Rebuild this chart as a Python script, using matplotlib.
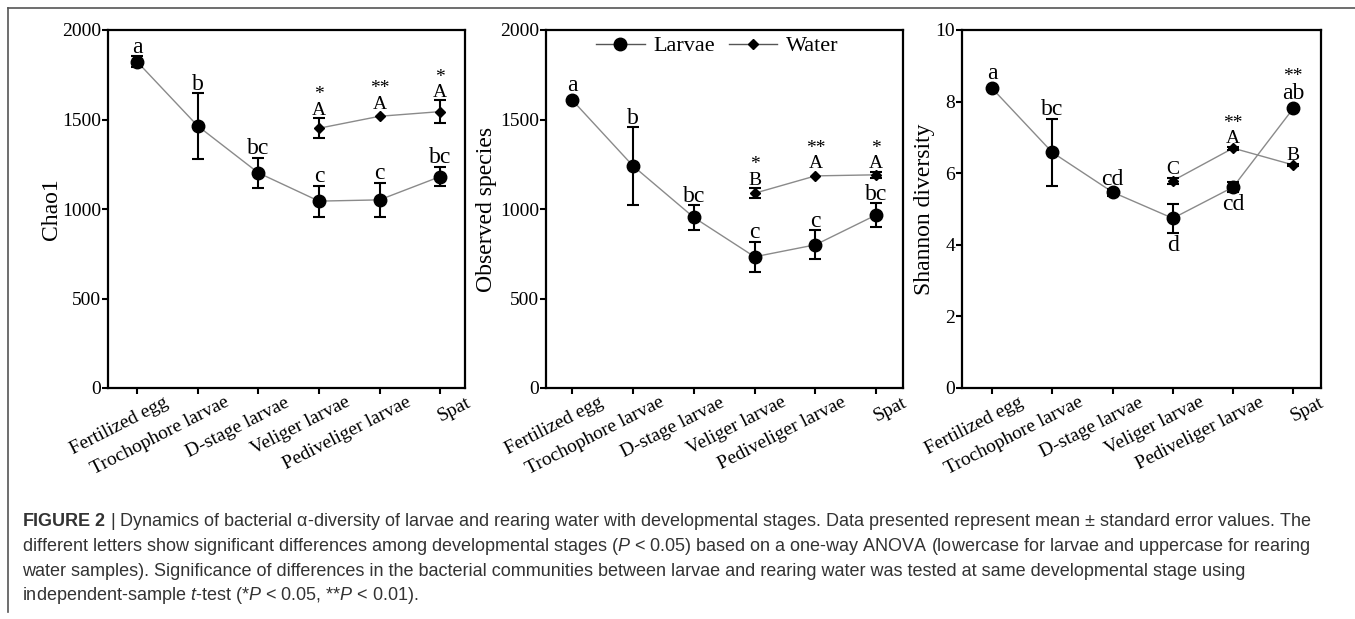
import numpy as np
import matplotlib
matplotlib.use('Agg')
from matplotlib import pyplot as plt
from matplotlib import font_manager, transforms
from matplotlib.lines import Line2D

nan = np.nan

# stages shared by all three panels
stages = ['Fertilized egg', 'Trochophore larvae', 'D-stage larvae',
          'Veliger larvae', 'Pediveliger larvae', 'Spat']

# Chao1
chao1_larvae = [1823, 1464, 1202, 1044, 1051, 1181]
chao1_larvae_se = [30, 182, 84, 87, 96, 54]
chao1_water = [nan, nan, nan, 1451, 1518, 1544]
chao1_water_se = [nan, nan, nan, 56, nan, 63]
chao1_larvae_letters = ['a', 'b', 'bc', 'c', 'c', 'bc']
chao1_water_letters = ['', '', '', 'A', 'A', 'A']
chao1_stars = ['', '', '', '*', '**', '*']

# Observed species
obs_larvae = [1609, 1241, 953, 733, 800, 967]
obs_larvae_se = [nan, 217, 68, 85, 82, 66]
obs_water = [nan, nan, nan, 1088, 1185, 1191]
obs_water_se = [nan, nan, nan, 28, nan, 18]
obs_larvae_letters = ['a', 'b', 'bc', 'c', 'c', 'bc']
obs_water_letters = ['', '', '', 'B', 'A', 'A']
obs_stars = ['', '', '', '*', '**', '*']

# Shannon diversity
shan_larvae = [8.37, 6.58, 5.47, 4.74, 5.61, 7.81]
shan_larvae_se = [nan, 0.94, 0.10, 0.41, 0.14, nan]
shan_water = [nan, nan, nan, 5.79, 6.70, 6.23]
shan_water_se = [nan, nan, nan, 0.08, 0.04, 0.04]
shan_larvae_letters = ['a', 'bc', 'cd', 'd', 'cd', 'ab']
shan_water_letters = ['', '', '', 'C', 'A', 'B']
shan_stars = ['', '', '', '', '**', '**']

names = {f.name for f in font_manager.fontManager.ttflist}
cap_font = 'Liberation Sans Narrow' if 'Liberation Sans Narrow' in names else 'Liberation Sans'

plt.rcParams['font.family'] = 'Liberation Serif'
plt.rcParams['mathtext.fontset'] = 'custom'
plt.rcParams['mathtext.rm'] = cap_font
plt.rcParams['mathtext.it'] = cap_font + ':italic'
plt.rcParams['mathtext.bf'] = cap_font + ':bold'

W, H = 1355, 619
fig = plt.figure(figsize=(W / 100, H / 100), dpi=100)

line_col = '#8a8a8a'


def panel(rect, xlim, larvae, larvae_se, water, water_se, l_letters, w_letters,
          stars, ylim, yticks, ylabel, ylabel_x, below=None):
    ax = fig.add_axes(rect)
    x = np.arange(len(stages))
    larvae = np.array(larvae, float)
    water = np.array(water, float)
    lse = np.array(larvae_se, float)
    wse = np.array(water_se, float)

    ax.plot(x, larvae, color=line_col, lw=1, zorder=2)
    ax.plot(x, water, color=line_col, lw=1, zorder=2)
    ax.plot(x, larvae, 'o', ms=9, color='black', zorder=3)
    ax.plot(x, water, 'D', ms=5.5, color='black', zorder=3)
    ax.errorbar(x, larvae, yerr=lse, fmt='none', ecolor='black',
                elinewidth=1.5, capsize=4.5, capthick=1.5, zorder=4)
    ax.errorbar(x, water, yerr=wse, fmt='none', ecolor='black',
                elinewidth=1.5, capsize=4.5, capthick=1.5, zorder=4)

    below = below or [False] * len(stages)
    for i in range(len(stages)):
        tops = {}
        # larvae letter
        se = lse[i]
        if below[i]:
            yb = larvae[i] - (se if np.isfinite(se) else 0)
            off = -1.5 if np.isfinite(se) else -6.5
            ax.annotate(l_letters[i], (x[i], yb), xytext=(0, off),
                        textcoords='offset points', ha='center', va='top',
                        fontsize=17)
        else:
            yt = larvae[i] + (se if np.isfinite(se) else 0)
            off = 2.5 if np.isfinite(se) else 6.5
            ax.annotate(l_letters[i], (x[i], yt), xytext=(0, off),
                        textcoords='offset points', ha='center',
                        va='baseline', fontsize=17)
            tops['l'] = (yt, off, 13)
        if w_letters[i]:
            se = wse[i]
            yt = water[i] + (se if np.isfinite(se) else 0)
            off = 2.5 if np.isfinite(se) else 5.5
            ax.annotate(w_letters[i], (x[i], yt), xytext=(0, off),
                        textcoords='offset points', ha='center',
                        va='baseline', fontsize=14)
            tops['w'] = (yt, off, 11)
        if stars[i]:
            key = 'w' if (np.isfinite(water[i]) and water[i] > larvae[i]) else 'l'
            yt, off, gap = tops[key]
            ax.annotate(stars[i], (x[i], yt), xytext=(0, off + gap),
                        textcoords='offset points', ha='center',
                        va='baseline', fontsize=14)

    ax.set_xlim(xlim)
    ax.set_ylim(ylim)
    ax.set_yticks(yticks)
    ax.set_xticks(x)
    ax.tick_params(axis='x', labelbottom=False, length=6 * 0.72, width=1.5)
    # rotated stage names, shifted right of their ticks as in the original
    trans = (transforms.blended_transform_factory(ax.transData, ax.transAxes) +
             transforms.ScaledTranslation(0.26, -0.06, fig.dpi_scale_trans))
    for xi, lab in zip(x, stages):
        ax.text(xi, 0, lab, transform=trans, rotation=27, rotation_mode='anchor',
                ha='right', va='top', fontsize=14, clip_on=False)
    ax.tick_params(axis='y', labelsize=14, length=6 * 0.72, width=1.5, pad=0.5)
    for s in ax.spines.values():
        s.set_linewidth(1.6)
    ax.set_ylabel(ylabel, fontsize=17)
    ax.yaxis.set_label_coords(ylabel_x, 0.5)
    return ax


ax1 = panel([108 / W, 1 - 388 / H, 357 / W, 358 / H], (-0.48, 5.41),
            chao1_larvae, chao1_larvae_se, chao1_water, chao1_water_se,
            chao1_larvae_letters, chao1_water_letters, chao1_stars,
            (0, 2000), [0, 500, 1000, 1500, 2000], 'Chao1', -0.13)
ax2 = panel([546 / W, 1 - 388 / H, 357 / W, 358 / H], (-0.43, 5.44),
            obs_larvae, obs_larvae_se, obs_water, obs_water_se,
            obs_larvae_letters, obs_water_letters, obs_stars,
            (0, 2000), [0, 500, 1000, 1500, 2000], 'Observed species', -0.137)
ax3 = panel([962 / W, 1 - 388 / H, 359 / W, 358 / H], (-0.5, 5.46),
            shan_larvae, shan_larvae_se, shan_water, shan_water_se,
            shan_larvae_letters, shan_water_letters, shan_stars,
            (0, 10), [0, 2, 4, 6, 8, 10], 'Shannon diversity', -0.075,
            below=[False, False, False, True, True, False])

handles = [Line2D([], [], color='#555555', lw=1, marker='o', ms=9,
                  markerfacecolor='black', markeredgecolor='black'),
           Line2D([], [], color='#555555', lw=1, marker='D', ms=5.5,
                  markerfacecolor='black', markeredgecolor='black')]
ax2.legend(handles, ['Larvae', 'Water'], loc='center',
           bbox_to_anchor=(0.48, 0.955), ncol=2, frameon=False, fontsize=16,
           handlelength=2.2, handletextpad=0.4, columnspacing=0.6)

# frame lines of the figure box
fig.add_artist(Line2D([8 / W, 1], [1 - 8 / H, 1 - 8 / H], color='#555555', lw=1.2))
fig.add_artist(Line2D([8 / W, 8 / W], [1 - 8 / H, 1 - 612 / H], color='#555555', lw=1.2))

caption = [
    r'$\mathbf{FIGURE\ 2}$ | Dynamics of bacterial α-diversity of larvae and rearing water with developmental stages. Data presented represent mean ± standard error values. The',
    r'different letters show significant differences among developmental stages ($\mathit{P}$ < 0.05) based on a one-way ANOVA (lowercase for larvae and uppercase for rearing',
    r'water samples). Significance of differences in the bacterial communities between larvae and rearing water was tested at same developmental stage using',
    r'independent-sample $\mathit{t}$-test (*$\mathit{P}$ < 0.05, **$\mathit{P}$ < 0.01).',
]
for k, line in enumerate(caption):
    fig.text(22 / W, 1 - (522 + 24.6 * k) / H, line, family=cap_font,
             fontsize=13, color='#333333', ha='left', va='center')

fig.savefig('out.png', dpi=100)
